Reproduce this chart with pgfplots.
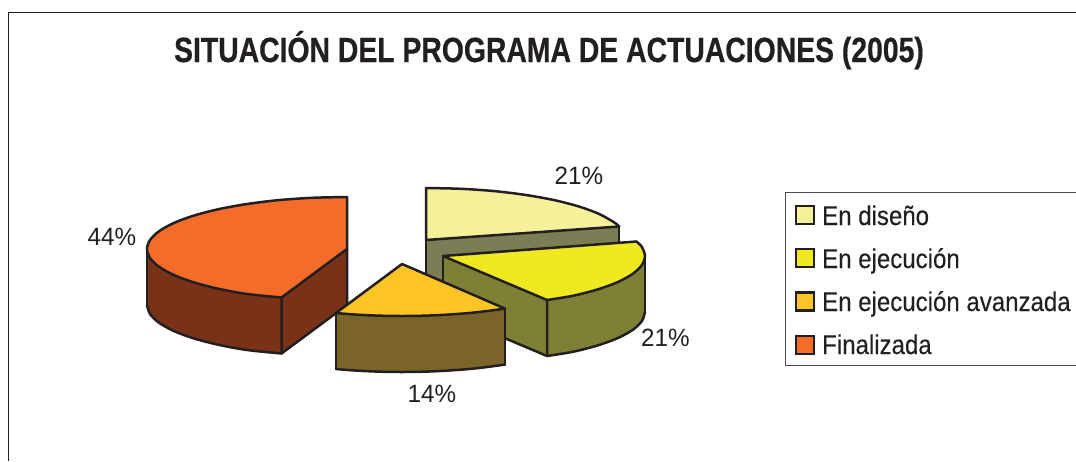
\documentclass[border=0pt]{standalone}
\usepackage{pgfplots}
\pgfplotsset{compat=1.18}
\usepackage{graphicx}
\usepackage{fontspec}
\setmainfont{Liberation Sans}
\definecolor{ink}{HTML}{231F20}
\definecolor{cpale}{HTML}{F5F19B}
\definecolor{cpaleside}{HTML}{7B7D55}
\definecolor{cyel}{HTML}{F0E921}
\definecolor{cyelside}{HTML}{7E8035}
\definecolor{cgold}{HTML}{FFC525}
\definecolor{cgoldside}{HTML}{7A6428}
\definecolor{corange}{HTML}{F36C2A}
\definecolor{cbrown}{HTML}{793217}
\pgfplotsset{
  edge/.style={color=ink,line width=2.5pt,no markers,line join=round,line cap=round},
  arc/.style={edge,smooth},
  face/.style={fill=#1,draw=none,no markers},
}
\newcommand{\legtext}[1]{\scalebox{0.89}[1]{\fontsize{27}{30}\selectfont\addfontfeature{FakeBold=0.25} #1}}
\newcommand{\pct}[1]{\scalebox{0.97}[1]{\fontsize{25}{28}\selectfont #1}}
\begin{document}
\begin{tikzpicture}
\begin{axis}[
  scale only axis,width=1076pt,height=461pt,
  xmin=0,xmax=1076,ymin=0,ymax=461,y dir=reverse,
  hide axis,clip=true,
]
% page corners, white, so that the page keeps its full size
\addplot[color=white,line width=0.01pt,no markers] coordinates {(0,0)(1076,0)(1076,461)(0,461)(0,0)};
% frame
\addplot[color=ink,line width=1.4pt,no markers] coordinates {(1076,12.5)(8.5,12.5)(8.5,461)};
% legend box
\addplot[color=ink!80,line width=1pt,no markers] coordinates {(1076,192.5)(785.7,192.5)(785.7,365)(1076,365)};

% En diseño: 21 %
\addplot[face=cpaleside] coordinates {(426,240)(619.2,226.5)(619.2,282.5)(426,296)};
\addplot[edge] coordinates {(426,240)(426,296)};
\addplot[edge] coordinates {(619.2,226.5)(619.2,282.5)};
\addplot[face=cpale] coordinates {(426,240)(426,188)(460.7,188.8)(494.4,191.1)(526,195)(554.6,200.2)(579.2,206.6)(599.2,214)(613.9,222.2)(619.2,226.5)};
\addplot[arc] coordinates {(426,188)(460.7,188.8)(494.4,191.1)(526,195)(554.6,200.2)(579.2,206.6)(599.2,214)(613.9,222.2)(619.2,226.5)};
\addplot[edge] coordinates {(619.2,226.5)(426,240)(426,188)};

% En ejecución: 21 %
\addplot[face=cyelside] coordinates {(443,256)(547,300)(547,356)(443,312)};
\addplot[edge] coordinates {(443,312)(443,256)};
\addplot[edge] coordinates {(443,312)(547,356)};
\addplot[face=cyelside] coordinates {(645,256)(641.9,265)(632.8,273.8)(617.9,282)(597.7,289.4)(572.8,295.8)(547,300)(547,356)(572.8,351.8)(597.7,345.4)(617.9,338)(632.8,329.8)(641.9,321)(645,312)};
\addplot[arc] coordinates {(547,356)(572.8,351.8)(597.7,345.4)(617.9,338)(632.8,329.8)(641.9,321)(645,312)};
\addplot[edge] coordinates {(645,312)(645,256)};
\addplot[face=cyel] coordinates {(443,256)(636.5,241.5)(641.9,247)(645,256)(641.9,265)(632.8,273.8)(617.9,282)(597.7,289.4)(572.8,295.8)(547,300)};
\addplot[arc] coordinates {(636.5,241.5)(641.9,247)(645,256)(641.9,265)(632.8,273.8)(617.9,282)(597.7,289.4)(572.8,295.8)(547,300)};
\addplot[edge] coordinates {(636.5,241.5)(443,256)(547,300)(547,356)};

% Finalizada: 44 %
\addplot[face=cbrown] coordinates {(147,249)(150,258)(159.1,266.8)(173.8,275)(193.8,282.4)(218.4,288.8)(247,294)(281.5,297.5)(281.5,353.5)(247,350)(218.4,344.8)(193.8,338.4)(173.8,331)(159.1,322.8)(150,314)(147,305)};
\addplot[face=cbrown] coordinates {(281.5,297.5)(347,249)(347,305)(281.5,353.5)};
\addplot[arc] coordinates {(147,305)(150,314)(159.1,322.8)(173.8,331)(193.8,338.4)(218.4,344.8)(247,350)(281.5,353.5)};
\addplot[edge] coordinates {(147,249)(147,305)};
\addplot[edge] coordinates {(281.5,297.5)(281.5,353.5)(347,305)(347,249)};
\addplot[face=corange] coordinates {(347,249)(347,197)(312.3,197.8)(278.6,200.1)(247,204)(218.4,209.2)(193.8,215.6)(173.8,223)(159.1,231.2)(150,240)(147,249)(150,258)(159.1,266.8)(173.8,275)(193.8,282.4)(218.4,288.8)(247,294)(281.5,297.5)};
\addplot[arc] coordinates {(347,197)(312.3,197.8)(278.6,200.1)(247,204)(218.4,209.2)(193.8,215.6)(173.8,223)(159.1,231.2)(150,240)(147,249)(150,258)(159.1,266.8)(173.8,275)(193.8,282.4)(218.4,288.8)(247,294)(281.5,297.5)};
\addplot[edge] coordinates {(281.5,297.5)(347,249)(347,197)};

% En ejecución avanzada: 14 %
\addplot[face=cgoldside] coordinates {(336,313)(350.2,314.2)(367.3,315.2)(384.6,315.8)(402,316)(419.4,315.8)(436.7,315.2)(453.8,314.2)(470.4,312.9)(486.5,311.1)(505,308.6)(505,364.6)(486.5,367.1)(470.4,368.9)(453.8,370.2)(436.7,371.2)(419.4,371.8)(402,372)(384.6,371.8)(367.3,371.2)(350.2,370.2)(336,369)};
\addplot[arc] coordinates {(336,369)(350.2,370.2)(367.3,371.2)(384.6,371.8)(402,372)(419.4,371.8)(436.7,371.2)(453.8,370.2)(470.4,368.9)(486.5,367.1)(505,364.6)};
\addplot[edge] coordinates {(336,313)(336,369)};
\addplot[edge] coordinates {(505,308.6)(505,364.6)};
\addplot[face=cgold] coordinates {(402,264)(336,313)(350.2,314.2)(367.3,315.2)(384.6,315.8)(402,316)(419.4,315.8)(436.7,315.2)(453.8,314.2)(470.4,312.9)(486.5,311.1)(505,308.6)};
\addplot[arc] coordinates {(336,313)(350.2,314.2)(367.3,315.2)(384.6,315.8)(402,316)(419.4,315.8)(436.7,315.2)(453.8,314.2)(470.4,312.9)(486.5,311.1)(505,308.6)};
\addplot[edge] coordinates {(336,313)(402,264)(505,308.6)};

% legend swatches
\addplot[fill=cpale,draw=ink,line width=2.5pt,no markers] coordinates {(796,206)(814,206)(814,224)(796,224)} --cycle;
\addplot[fill=cyel,draw=ink,line width=2.5pt,no markers] coordinates {(796,249)(814,249)(814,267)(796,267)} --cycle;
\addplot[fill=cgold,draw=ink,line width=2.5pt,no markers] coordinates {(796,292.5)(814,292.5)(814,310.5)(796,310.5)} --cycle;
\addplot[fill=corange,draw=ink,line width=2.5pt,no markers] coordinates {(796,336)(814,336)(814,354)(796,354)} --cycle;

% text
\node[anchor=base,inner sep=0pt,text=ink] at (axis cs:549,62) {\scalebox{0.81}[1]{\bfseries\fontsize{35}{38}\selectfont\addfontfeature{FakeBold=0.6} SITUACIÓN DEL PROGRAMA DE ACTUACIONES (2005)}};
\node[anchor=base west,inner sep=0pt,text=ink] at (axis cs:822,225) {\legtext{En diseño}};
\node[anchor=base west,inner sep=0pt,text=ink] at (axis cs:822,268) {\legtext{En ejecución}};
\node[anchor=base west,inner sep=0pt,text=ink] at (axis cs:822,311) {\legtext{En ejecución avanzada}};
\node[anchor=base west,inner sep=0pt,text=ink] at (axis cs:822,354) {\legtext{Finalizada}};
\node[anchor=base,inner sep=0pt,text=ink] at (axis cs:579,184.5) {\pct{21\%}};
\node[anchor=base,inner sep=0pt,text=ink] at (axis cs:665.5,346) {\pct{21\%}};
\node[anchor=base,inner sep=0pt,text=ink] at (axis cs:432,402) {\pct{14\%}};
\node[anchor=base,inner sep=0pt,text=ink] at (axis cs:112,245) {\pct{44\%}};
\end{axis}
\end{tikzpicture}
\end{document}
